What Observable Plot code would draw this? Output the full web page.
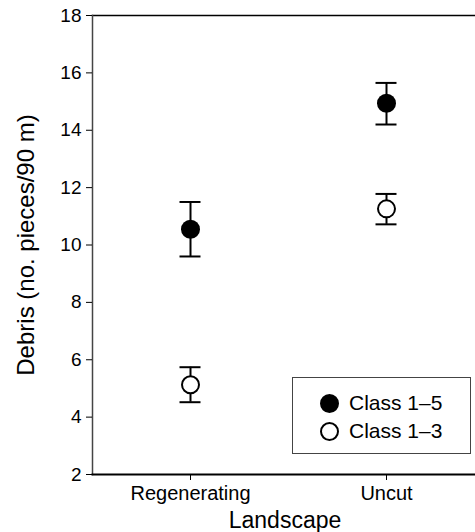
<!DOCTYPE html>
<html>
<head>
<meta charset="utf-8">
<script src="https://cdn.jsdelivr.net/npm/d3@7"></script>
<script src="https://cdn.jsdelivr.net/npm/@observablehq/plot@0.6"></script>
<style>
  html, body { margin: 0; padding: 0; background: #fff; }
  #wrap { position: relative; width: 475px; height: 532px; font-family: "Liberation Sans", Arial, sans-serif; }
  #legend { position: absolute; left: 292px; top: 377px; width: 179px; height: 77px; border: 1px solid #444; box-sizing: border-box; background: #fff; }
  .row { position: absolute; left: 0; height: 24px; display: flex; align-items: center; font-size: 21px; color: #000; line-height: 24px; }
  .sym { display: inline-block; box-sizing: border-box; width: 19px; height: 19px; border-radius: 50%; border: 2px solid #000; margin-left: 27px; margin-right: 10px; }
</style>
</head>
<body>
<div id="wrap"></div>
<script>
const landscapes = ["Regenerating", "Uncut"];
const seriesNames = ["Class 1–5", "Class 1–3"];
const class15Mean = [10.55, 14.94];
const class15Low = [9.6, 14.2];
const class15High = [11.5, 15.65];
const class13Mean = [5.13, 11.26];
const class13Low = [4.52, 10.72];
const class13High = [5.74, 11.78];
const yTicks = [2, 4, 6, 8, 10, 12, 14, 16, 18];

const rows = [];
landscapes.forEach((l, i) => {
  rows.push({land: l, series: seriesNames[0], mean: class15Mean[i], lo: class15Low[i], hi: class15High[i]});
  rows.push({land: l, series: seriesNames[1], mean: class13Mean[i], lo: class13Low[i], hi: class13High[i]});
});

const font = "Liberation Sans, Arial, sans-serif";
const plot = Plot.plot({
  width: 475,
  height: 532,
  marginLeft: 92,
  marginRight: 0,
  marginTop: 15,
  marginBottom: 58,
  style: {fontFamily: font, background: "#fff", color: "#000"},
  x: {type: "point", domain: landscapes, range: [190, 386], padding: 0},
  y: {domain: [2, 18]},
  marks: [
    Plot.frame({anchor: "top", stroke: "#000", strokeWidth: 1.5}),
    Plot.frame({anchor: "left", stroke: "#444", strokeWidth: 1.5}),
    Plot.frame({anchor: "bottom", stroke: "#000", strokeWidth: 2}),
    Plot.axisY({ticks: yTicks, tickSize: 6, tickPadding: 5, fontSize: 19, label: null, stroke: "#000"}),
    Plot.axisX({tickSize: 6, tickPadding: 5, fontSize: 20, label: null}),
    Plot.text(["Debris (no. pieces/90 m)"], {frameAnchor: "left", textAnchor: "middle", dx: -66, rotate: -90, fontSize: 24, fill: "#000"}),
    Plot.text(["Landscape"], {frameAnchor: "bottom", dy: 53, dx: 1, fontSize: 23, fill: "#000"}),
    Plot.ruleX(rows, {x: "land", y1: "lo", y2: "hi", stroke: "#000", strokeWidth: 2}),
    Plot.ruleY(rows, {x1: "land", x2: "land", y: "hi", insetLeft: -10.5, insetRight: -10.5, stroke: "#000", strokeWidth: 2}),
    Plot.ruleY(rows, {x1: "land", x2: "land", y: "lo", insetLeft: -10.5, insetRight: -10.5, stroke: "#000", strokeWidth: 2}),
    Plot.dot(rows.filter(d => d.series === seriesNames[0]), {x: "land", y: "mean", r: 9.5, fill: "#000", stroke: "none"}),
    Plot.dot(rows.filter(d => d.series === seriesNames[1]), {x: "land", y: "mean", r: 8.5, fill: "#fff", stroke: "#000", strokeWidth: 2})
  ]
});
const wrap = document.getElementById("wrap");
wrap.appendChild(plot);

const legend = document.createElement("div");
legend.id = "legend";
seriesNames.forEach((s, i) => {
  const row = document.createElement("div");
  row.className = "row";
  row.style.top = (i === 0 ? 13 : 41) + "px";
  const sym = document.createElement("span");
  sym.className = "sym";
  sym.style.background = i === 0 ? "#000" : "#fff";
  const t = document.createElement("span");
  t.textContent = s;
  row.appendChild(sym);
  row.appendChild(t);
  legend.appendChild(row);
});
wrap.appendChild(legend);
</script>
</body>
</html>
